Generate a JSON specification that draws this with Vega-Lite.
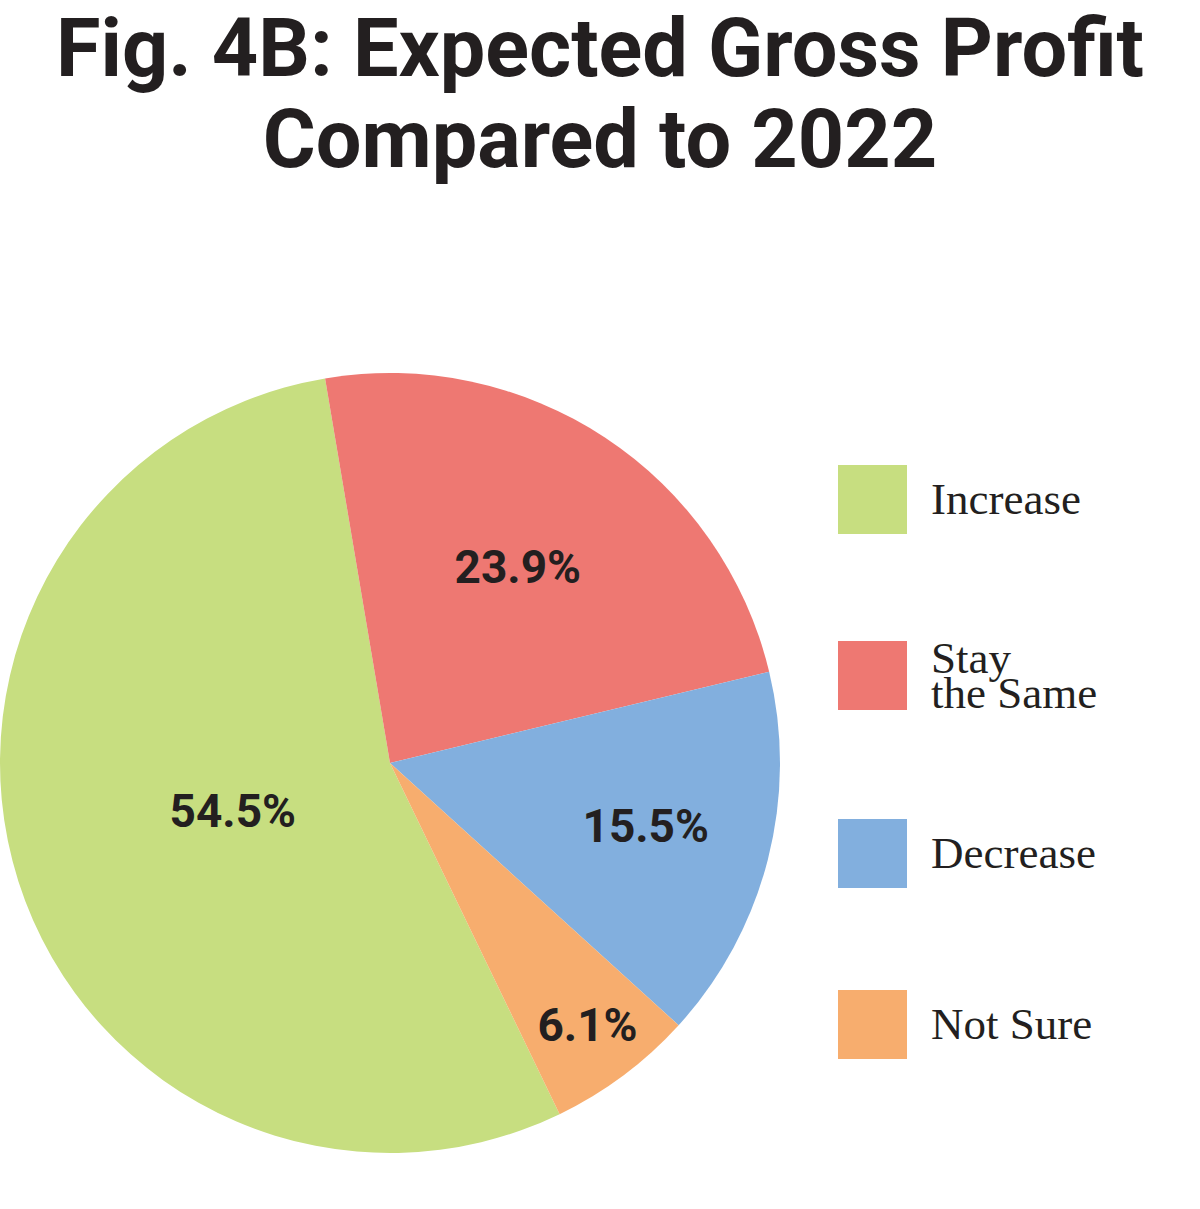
{
  "$schema": "https://vega.github.io/schema/vega-lite/v6.json",
  "autosize": {"type": "none"},
  "width": 780,
  "height": 780,
  "padding": {"left": 0, "top": 373, "right": 420, "bottom": 56},
  "background": "white",
  "title": {
    "text": ["Fig. 4B: Expected Gross Profit", "Compared to 2022"],
    "font": "Roboto",
    "fontWeight": "bold",
    "fontSize": 81,
    "lineHeight": 91,
    "color": "#231F20",
    "anchor": "middle",
    "frame": "group",
    "dx": 210,
    "baseline": "alphabetic",
    "offset": 125
  },
  "data": {
    "values": [
      {"response": "Increase", "share": 0.545, "k": 1},
      {"response": "Stay the Same", "share": 0.239, "k": 2},
      {"response": "Decrease", "share": 0.155, "k": 3},
      {"response": "Not Sure", "share": 0.061, "k": 4}
    ]
  },
  "encoding": {
    "theta": {"field": "share", "type": "quantitative", "stack": true, "scale": {"range": [2.6916, 8.9748]}},
    "order": {"field": "k", "type": "quantitative"}
  },
  "layer": [
    {
      "mark": {"type": "arc", "outerRadius": 390, "stroke": null},
      "encoding": {
        "color": {
          "field": "response",
          "type": "nominal",
          "sort": ["Increase", "Stay the Same", "Decrease", "Not Sure"],
          "scale": {
            "domain": ["Increase", "Stay the Same", "Decrease", "Not Sure"],
            "range": ["#C7DE80", "#EE7872", "#82AFDE", "#F7AD6E"]
          },
          "legend": {
            "title": null,
            "orient": "none",
            "legendX": 838,
            "legendY": 92,
            "padding": 0,
            "symbolType": "square",
            "symbolSize": 4761,
            "symbolStrokeWidth": 0,
            "symbolOpacity": 1,
            "labelFont": "Liberation Serif, DejaVu Serif, serif",
            "labelFontSize": 45,
            "labelColor": "#231F20",
            "labelOffset": 24,
            "labelLimit": 400,
            "rowPadding": 102,
            "clipHeight": 69,
            "labelExpr": "datum.label == 'Stay the Same' ? ['Stay', 'the Same'] : datum.label",
            "encoding": {
              "labels": {
                "lineHeight": {"value": 35},
                "dy": {"condition": {"test": "datum.label == 'Stay the Same'", "value": -17}, "value": 0}
              }
            }
          }
        }
      }
    },
    {
      "mark": {
        "type": "text",
        "font": "Roboto",
        "fontWeight": "bold",
        "fontSize": 46,
        "color": "#231F20",
        "align": "center",
        "baseline": "middle"
      },
      "encoding": {
        "detail": {"field": "response", "type": "nominal"},
        "radius": {
          "field": "share",
          "type": "quantitative",
          "scale": {"domain": [0.061, 0.155, 0.239, 0.545], "range": [330, 264, 232, 165], "zero": false}
        },
        "text": {"field": "share", "type": "quantitative", "format": ".1%"}
      }
    }
  ]
}
